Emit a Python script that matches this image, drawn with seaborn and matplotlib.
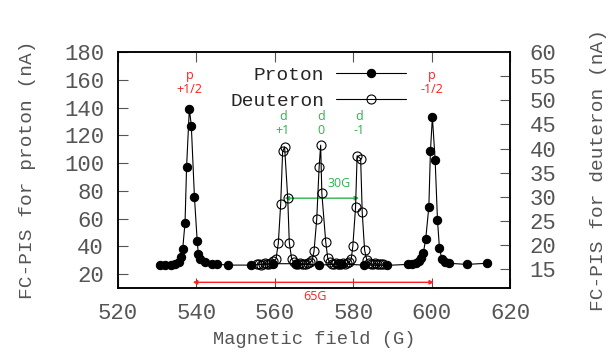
import matplotlib
matplotlib.use('Agg')
import matplotlib.pyplot as plt
import pandas as pd
import seaborn as sns

# proton scan (left axis, nA)
proton_field = [530.8, 532.1, 533.4, 534.6, 535.5, 536.0, 536.5, 537.1,
                537.5, 538.2, 538.7, 539.5, 540.2, 540.5, 541.0, 542.3,
                544.0, 545.3, 548.0, 554.0, 559.5, 565.3, 571.2, 577.0,
                582.7, 588.5, 594.0, 595.0, 596.0, 596.8, 597.4, 597.9,
                598.5, 599.3, 599.7, 600.2, 600.9, 601.5, 602.0, 602.6,
                603.3, 604.4, 609.0, 614.1]
proton_current = [26.3, 26.5, 26.8, 27.5, 29.0, 32.0, 38.0, 57.0,
                  97.5, 139.0, 127.0, 75.5, 44.0, 34.5, 31.0, 28.5,
                  27.2, 27.2, 26.5, 26.5, 27.5, 27.5, 26.5, 27.3,
                  26.5, 26.3, 27.0, 27.2, 27.8, 29.5, 31.5, 35.5,
                  45.2, 68.6, 108.5, 133.0, 102.5, 59.0, 38.8, 31.0,
                  29.0, 27.8, 27.0, 27.8]

# deuteron scan (right axis, nA)
deuteron_field = [555.5, 556.0, 556.5, 557.0, 557.5, 558.0, 558.5, 559.0,
                  559.5, 560.3, 560.9, 561.5, 562.0, 562.5, 563.3, 563.7,
                  564.3, 565.0, 565.5, 566.0, 566.5, 567.0, 567.5, 568.0,
                  568.5, 569.0, 569.5, 570.0, 570.7, 571.3, 571.7, 572.0,
                  573.0, 573.5, 574.0, 574.5, 575.0, 575.5, 576.0, 576.5,
                  577.0, 577.5, 578.0, 578.5, 579.0, 579.5, 579.9, 580.6,
                  581.0, 581.9, 582.3, 582.9, 583.5, 584.0, 584.5, 585.0,
                  585.5, 586.0, 586.5, 587.0, 587.5]
deuteron_current = [16.0, 16.1, 15.9, 16.0, 16.2, 16.0, 16.1, 16.3,
                    16.6, 17.1, 20.4, 28.5, 39.4, 40.3, 29.7, 20.5,
                    17.1, 16.4, 16.1, 16.0, 16.2, 16.0, 16.1, 16.0,
                    16.2, 16.4, 16.8, 18.7, 25.4, 36.1, 40.7, 30.7,
                    20.6, 17.3, 16.4, 16.1, 16.0, 16.2, 16.0, 16.1,
                    16.0, 16.2, 16.0, 16.3, 16.5, 17.1, 19.7, 27.8,
                    38.5, 37.9, 26.8, 19.0, 16.8, 16.3, 16.1, 16.0,
                    16.2, 16.0, 16.1, 16.0, 16.1]

field_ticks = [520, 540, 560, 580, 600, 620]
proton_ticks = [20, 40, 60, 80, 100, 120, 140, 160, 180]
deuteron_ticks = [15, 20, 25, 30, 35, 40, 45, 50, 55, 60]

sns.set_theme(style='ticks')
plt.rcParams['font.family'] = ['Liberation Mono', 'DejaVu Sans Mono']
grey = '#555555'
red = '#ff1f1f'
green = '#2db34e'

proton_df = pd.DataFrame({'field': proton_field, 'current': proton_current})
deuteron_df = pd.DataFrame({'field': deuteron_field,
                            'current': deuteron_current})

fig = plt.figure(figsize=(6.09, 3.61), dpi=100)
ax = fig.add_axes([118 / 609, 73 / 361, 392 / 609, 236 / 361])
ax2 = ax.twinx()

sns.lineplot(data=proton_df, x='field', y='current', ax=ax, sort=True,
             estimator=None, color='black', linewidth=0.8, marker='o',
             markersize=6, markerfacecolor='black', markeredgecolor='black',
             label='Proton', legend=False)
sns.lineplot(data=deuteron_df, x='field', y='current', ax=ax2, sort=True,
             estimator=None, color='black', linewidth=0.8, marker='o',
             markersize=6.5, markerfacecolor='none', markeredgecolor='black',
             markeredgewidth=0.8, label='Deuteron', legend=False)

ax.set_xlim(520, 620)
ax.set_ylim(10, 180)
ax2.set_ylim(11.1, 60)
ax.set_xticks(field_ticks)
ax.set_yticks(proton_ticks)
ax2.set_yticks(deuteron_ticks)

ax.tick_params(axis='both', direction='in', length=7, width=0.8,
               colors=grey, labelsize=16, top=True, right=False)
ax.tick_params(axis='y', pad=10)
ax.tick_params(axis='x', pad=11)
ax2.tick_params(axis='y', direction='in', length=7, width=0.8,
                colors=grey, labelsize=16, pad=14)
for a in (ax, ax2):
    for s in a.spines.values():
        s.set_linewidth(1.1)
        s.set_color('black')

ax.set_xlabel('Magnetic field (G)', fontsize=13.5, color=grey, labelpad=5)
ax.set_ylabel('FC-PIS for proton (nA)', fontsize=14, color=grey,
              labelpad=20)
ax2.set_ylabel('FC-PIS for deuteron (nA)', fontsize=14, color=grey,
               labelpad=24)

# legend: text first, sample line after (gnuplot style)
h1, l1 = ax.get_legend_handles_labels()
h2, l2 = ax2.get_legend_handles_labels()
ax2.legend(h1 + h2, l1 + l2, loc='upper right',
           bbox_to_anchor=(0.735, 0.94), frameon=False, markerfirst=False,
           fontsize=14, handlelength=3.6, handletextpad=0.6,
           labelspacing=0.45, borderpad=0, borderaxespad=0)

# peak labels
lbl = dict(fontsize=9, ha='center', va='center', family='Open Sans',
           linespacing=1.1)
ax.text(538.2, 158.0, 'p\n+1/2', color=red, **lbl)
ax.text(600.1, 158.0, 'p\n-1/2', color=red, **lbl)
ax.text(562.0, 128.5, 'd\n+1', color=green, **lbl)
ax.text(571.8, 128.5, 'd\n0', color=green, **lbl)
ax.text(581.5, 128.5, 'd\n-1', color=green, **lbl)

# spacing arrows
ax.annotate('', xy=(581.5, 74.7), xytext=(562.5, 74.7),
            arrowprops=dict(arrowstyle='<|-|>', color=green, lw=1,
                            mutation_scale=6, shrinkA=0, shrinkB=0))
ax.text(576.3, 85.0, '30G', color=green, fontsize=9, ha='center',
        va='center', family='Open Sans')
ax.annotate('', xy=(600.6, 14.1), xytext=(539.1, 14.1),
            arrowprops=dict(arrowstyle='<|-|>', color=red, lw=1,
                            mutation_scale=6, shrinkA=0, shrinkB=0))
ax.text(570.3, 3.6, '65G', color=red, fontsize=9, ha='center',
        va='center', family='Open Sans', clip_on=False)

fig.savefig('out.png', dpi=100)
